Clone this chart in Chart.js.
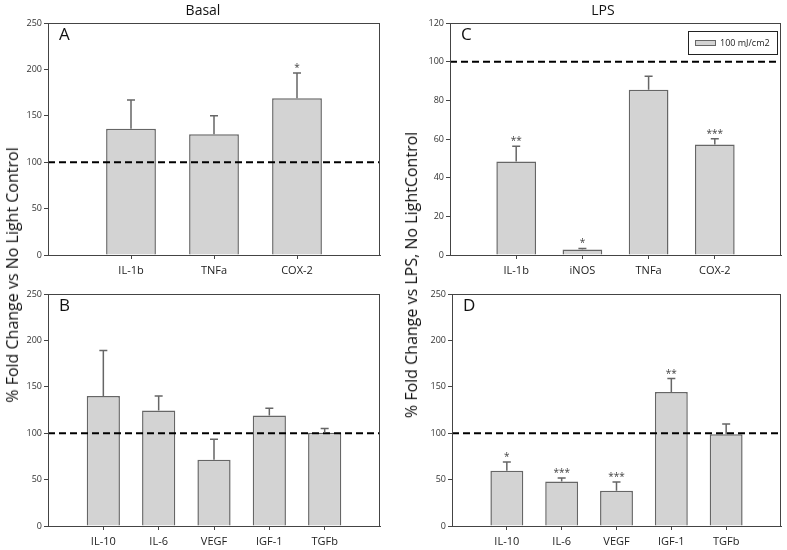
<!DOCTYPE html>
<html>
<head>
<meta charset="utf-8">
<script src="https://cdn.jsdelivr.net/npm/chart.js@4.4.1/dist/chart.umd.min.js"></script>
<style>
  body { margin: 0; background: #fff; }
  #wrap { position: relative; width: 787px; height: 550px; font-family: 'Open Sans', sans-serif; color: #111; }
  canvas { position: absolute; }
  .title { position: absolute; font-size: 14px; transform: translateX(-50%); }
  .ytitle { position: absolute; font-size: 16px; white-space: nowrap; transform: translate(-50%, -50%) rotate(-90deg); }
</style>
</head>
<body>
<div id="wrap">
  <canvas id="chartA" width="395" height="280" style="left:0;top:0"></canvas>
  <canvas id="chartB" width="395" height="270" style="left:0;top:280px"></canvas>
  <canvas id="chartC" width="392" height="280" style="left:395px;top:0"></canvas>
  <canvas id="chartD" width="392" height="270" style="left:395px;top:280px"></canvas>
  <div class="title" style="left:203px;top:0">Basal</div>
  <div class="title" style="left:603px;top:0">LPS</div>
  <div class="ytitle" style="left:12px;top:275px">% Fold Change vs No Light Control</div>
  <div class="ytitle" style="left:411px;top:275px">% Fold Change vs LPS, No LightControl</div>
</div>
<script>
var refLine = 100;

var labelsA = ['IL-1b', 'TNFa', 'COX-2'];
var valuesA = [136, 130, 169];
var errA = [31, 20, 27];
var sigA = ['', '', '*'];

var labelsB = ['IL-10', 'IL-6', 'VEGF', 'IGF-1', 'TGFb'];
var valuesB = [140, 124.5, 71.5, 119, 100.5];
var errB = [49, 15.5, 22, 8, 4.5];
var sigB = ['', '', '', '', ''];

var labelsC = ['IL-1b', 'iNOS', 'TNFa', 'COX-2'];
var valuesC = [48.3, 2.8, 85.5, 57.2];
var errC = [7.9, 0.6, 7, 2.9];
var sigC = ['**', '*', '', '***'];

var labelsD = ['IL-10', 'IL-6', 'VEGF', 'IGF-1', 'TGFb'];
var valuesD = [59.5, 48, 38, 144.5, 99];
var errD = [9.4, 3.6, 9.3, 14.4, 11];
var sigD = ['*', '***', '***', '**', ''];

var legendLabel = '100 mJ/cm2';
var axisColor = '#444';
var barFill = '#d3d3d3';
var barEdge = '#666';

var panelPlugin = {
  id: 'panelExtras',
  beforeDraw: function(chart) {
    var ctx = chart.ctx;
    ctx.save();
    ctx.fillStyle = '#fff';
    ctx.fillRect(0, 0, chart.width, chart.height);
    ctx.restore();
  },
  afterDatasetsDraw: function(chart, args, opts) {
    var ctx = chart.ctx;
    var area = chart.chartArea;
    var yScale = chart.scales.y;
    var meta = chart.getDatasetMeta(1);
    ctx.save();
    // error bars + significance stars
    meta.data.forEach(function(bar, i) {
      var k = i - 1;
      if (k < 0 || k >= opts.err.length) return;
      var top = yScale.getPixelForValue(opts.values[k] + opts.err[k]);
      var base = yScale.getPixelForValue(opts.values[k]);
      ctx.strokeStyle = barEdge;
      ctx.lineWidth = 1.5;
      ctx.beginPath();
      ctx.moveTo(bar.x, base);
      ctx.lineTo(bar.x, top);
      ctx.moveTo(bar.x - 4, top);
      ctx.lineTo(bar.x + 4, top);
      ctx.stroke();
      if (opts.sig[k]) {
        ctx.fillStyle = '#444';
        ctx.font = '10px "Open Sans"';
        ctx.textAlign = 'center';
        ctx.textBaseline = 'alphabetic';
        ctx.fillText(opts.sig[k], bar.x, top - 2);
      }
    });
    // frame
    ctx.strokeStyle = axisColor;
    ctx.lineWidth = 1;
    ctx.strokeRect(area.left + 0.5, area.top + 0.5, area.right - area.left - 1, area.bottom - area.top);
    // panel letter
    ctx.fillStyle = '#111';
    ctx.font = '17px "Open Sans"';
    ctx.textAlign = 'left';
    ctx.textBaseline = 'top';
    ctx.fillText(opts.letter, area.left + 11, area.top + 4);
    // legend
    if (opts.legend) {
      var w = 89, h = 23;
      var x0 = area.right - 4 - w, y0 = area.top + 8;
      ctx.strokeStyle = '#222';
      ctx.strokeRect(x0 + 0.5, y0 + 0.5, w, h);
      ctx.fillStyle = barFill;
      ctx.fillRect(x0 + 7, y0 + 9, 20, 5);
      ctx.strokeStyle = barEdge;
      ctx.strokeRect(x0 + 7.5, y0 + 9.5, 20, 5);
      ctx.fillStyle = '#222';
      ctx.font = '9px "Open Sans"';
      ctx.textBaseline = 'middle';
      ctx.fillText(opts.legend, x0 + 32, y0 + 12);
    }
    ctx.restore();
  }
};

function makePanel(canvasId, letter, cats, values, err, sig, yMax, yStep, box, legend) {
  var labels = [''].concat(cats).concat(['']);
  var barData = [null].concat(values).concat([null]);
  var refData = labels.map(function() { return refLine; });
  var n = labels.length;
  var ctx = document.getElementById(canvasId).getContext('2d');
  return new Chart(ctx, {
    type: 'bar',
    data: {
      labels: labels,
      datasets: [
        {
          type: 'line',
          data: refData,
          borderColor: '#000',
          borderWidth: 2,
          borderDash: [7, 4],
          pointRadius: 0,
          fill: false,
          order: 0
        },
        {
          label: legend || '',
          data: barData,
          backgroundColor: barFill,
          borderColor: barEdge,
          borderWidth: 1.5,
          categoryPercentage: 1,
          barPercentage: 0.6,
          order: 1
        }
      ]
    },
    options: {
      responsive: false,
      animation: false,
      devicePixelRatio: 1,
      layout: { padding: { top: box.top, right: box.right, left: 0, bottom: 0 } },
      plugins: {
        legend: { display: false },
        tooltip: { enabled: false },
        panelExtras: { letter: letter, values: values, err: err, sig: sig, legend: legend }
      },
      scales: {
        x: {
          offset: false,
          afterFit: function(scale) { scale.height = box.xh; },
          grid: {
            offset: false,
            drawOnChartArea: false,
            tickLength: 4,
            color: function(c) { return (c.index > 0 && c.index < n - 1) ? axisColor : 'rgba(0,0,0,0)'; }
          },
          border: { color: axisColor },
          ticks: { color: '#222', font: { family: 'Open Sans', size: 11 }, padding: 5, maxRotation: 0, autoSkip: false }
        },
        y: {
          min: 0,
          max: yMax,
          afterFit: function(scale) { scale.width = box.yw; },
          grid: { drawOnChartArea: false, tickLength: 4, color: axisColor },
          border: { color: axisColor },
          ticks: { stepSize: yStep, color: '#333', font: { family: 'Open Sans', size: 9 }, padding: 2 }
        }
      }
    },
    plugins: [panelPlugin]
  });
}

makePanel('chartA', 'A', labelsA, valuesA, errA, sigA, 250, 50, { top: 23, right: 15, yw: 48, xh: 25 });
makePanel('chartB', 'B', labelsB, valuesB, errB, sigB, 250, 50, { top: 14, right: 15, yw: 48, xh: 24 });
makePanel('chartC', 'C', labelsC, valuesC, errC, sigC, 120, 20, { top: 23, right: 6, yw: 55, xh: 25 }, legendLabel);
makePanel('chartD', 'D', labelsD, valuesD, errD, sigD, 250, 50, { top: 14, right: 6, yw: 57, xh: 24 });
</script>
</body>
</html>
